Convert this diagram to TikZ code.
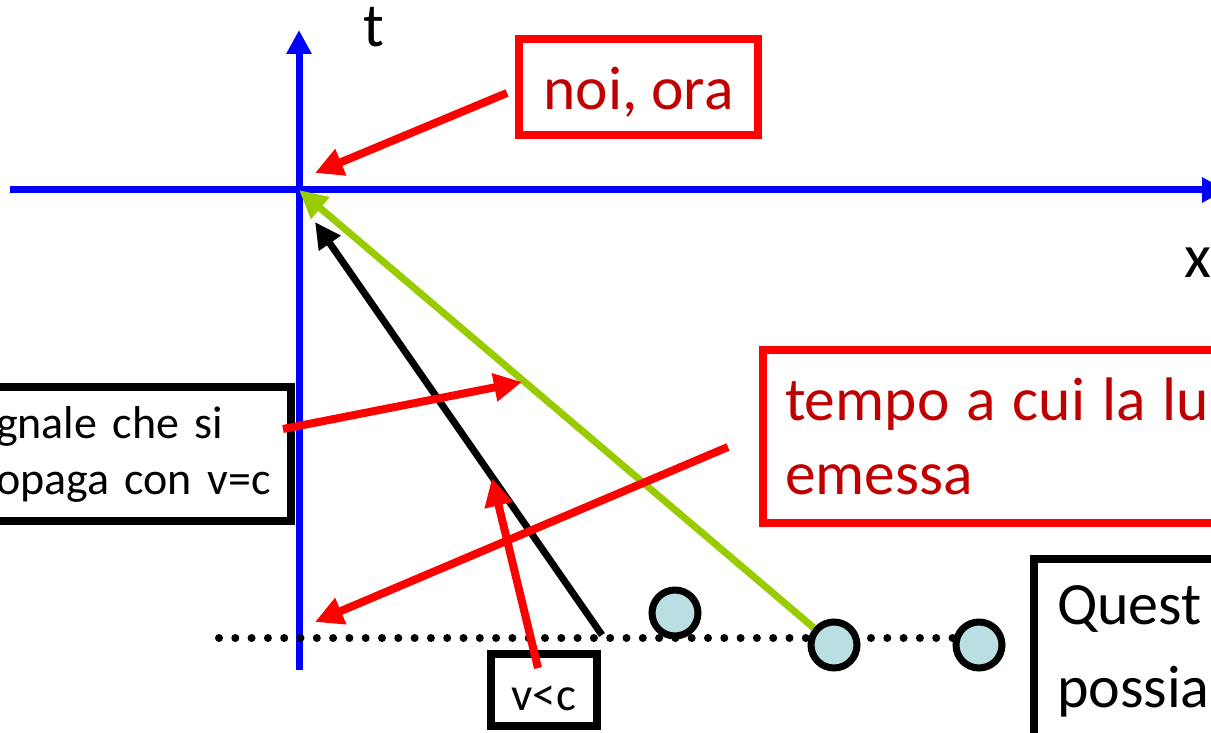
\documentclass[tikz,border=0pt]{standalone}
\usepackage{fontspec}
\setmainfont{Carlito}
\usetikzlibrary{arrows.meta}
\definecolor{lred}{HTML}{FF0000}
\definecolor{dred}{HTML}{C00000}
\definecolor{lgreen}{HTML}{99CC00}
\definecolor{ballblue}{HTML}{B9DFE3}

\begin{document}
\begin{tikzpicture}[x=1pt,y=-1pt,
axis/.style={draw=blue,line width=7pt,-{Triangle[length=24pt,width=24pt]}},
redarrow/.style={draw=lred,line width=8pt,-{Triangle[length=28pt,width=27pt]}},
redbox/.style={draw=lred,line width=8pt,text=dred,inner sep=0pt,font=\fontsize{61.5}{74}\selectfont},
blackbox/.style={draw=black,line width=8pt,inner sep=0pt},
ball/.style={circle,draw=black,line width=7pt,fill=ballblue,minimum size=46pt,inner sep=0pt},
dotline/.style={line width=8pt,line cap=round,dash pattern=on 0pt off 16.3pt}]
\useasboundingbox (0,0) rectangle (1211,733);
\clip (0,0) rectangle (1211,733);
% axes
\coordinate (O) at (299,190);
\coordinate (tbot) at (299,670);
\coordinate (ttop) at (299,30);
\coordinate (xleft) at (10,190);
\coordinate (xright) at (1226,190);
\draw[axis](tbot)--(ttop);
\draw[axis](xleft)--(xright);
\node[anchor=base,font=\fontsize{62}{74}\selectfont](tlab) at (374,47){t};
\node[anchor=base,font=\fontsize{62}{74}\selectfont](xlab) at (1198,277){x};
% sources on the dotted line
\coordinate (dl) at (219,638);
\coordinate (dr) at (962,638);
\draw[dotline](dl)--(dr);
\node[ball](c1) at (675,613){};
\node[ball](c2) at (834,645){};
\node[ball](c3) at (979,645){};
\draw[draw=lgreen,line width=7pt,-{Triangle[length=28pt,width=27pt]}](c2)--(O);
\coordinate (src) at (602,635);
\coordinate (bt) at (315,222);
\draw[line width=7pt,-{Triangle[length=26pt,width=25pt]}](src)--(bt);
% labels
\node[redbox,minimum width=239pt,minimum height=96pt,text height=46pt,text depth=0pt](noi) at (638.5,87){noi, ora};
\node[redbox,anchor=north west,minimum height=173pt,text width=480pt,inner xsep=22pt,align=left](tempo) at (759,346){\spaceskip=17pt\relax tempo a cui la lu\\emessa};
\node[blackbox,anchor=north east,minimum height=134pt,text width=284pt,inner xsep=11pt,align=left,font=\fontsize{46}{56}\selectfont](segn) at (295,383){gnale che si\\opaga con v=c};
\node[blackbox,minimum width=106pt,minimum height=72pt,text height=40pt,text depth=0pt,font=\fontsize{47}{56}\selectfont](vc) at (544,690){v<c};
\node[blackbox,anchor=north west,minimum height=184pt,text width=200pt,inner xsep=23pt,align=left,font=\fontsize{60}{83}\selectfont](quest) at (1030,555){Quest\\possia};
% red pointers
\coordinate (hitgreen) at (522,382);
\coordinate (hitaxis) at (315,622);
\coordinate (hitblack) at (492,478);
\draw[redarrow]([shift={(-8,6)}]noi.west)--([shift={(16,-17)}]O);
\draw[redarrow]([shift={(-12,-25)}]segn.east)--(hitgreen);
\draw[redarrow]([shift={(-31,10.5)}]tempo.west)--(hitaxis);
\draw[redarrow]([shift={(-6,18)}]vc.north)--(hitblack);
\end{tikzpicture}
\end{document}
